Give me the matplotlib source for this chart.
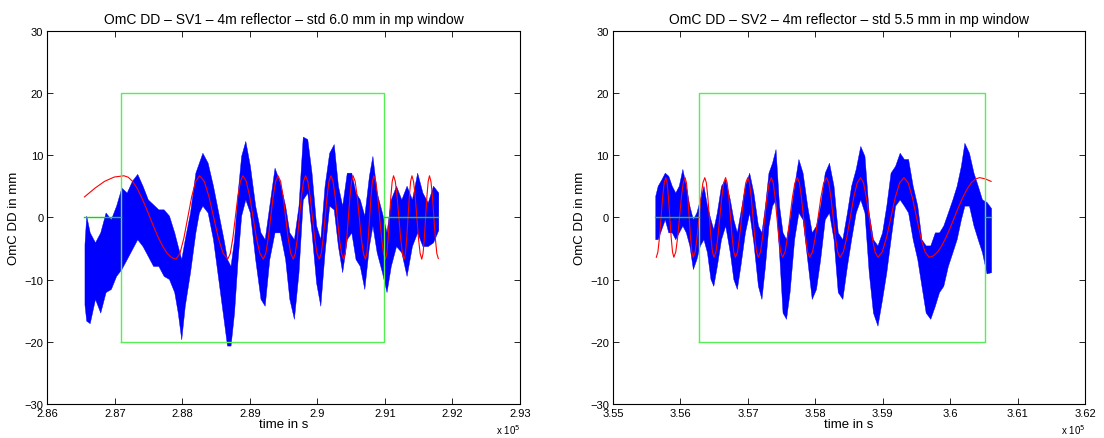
import matplotlib
matplotlib.use("Agg")
import matplotlib.pyplot as plt

plt.rcParams["font.family"] = ["Liberation Sans", "DejaVu Sans"]

# ---------------- SV1 (left panel) ----------------
SV1_TITLE = "OmC DD \u2013 SV1 \u2013 4m reflector \u2013 std 6.0 mm in mp window"
SV1_XTICKS = [286000, 287000, 288000, 289000, 290000, 291000, 292000, 293000]
SV1_WINDOW = [287085, 290981]

# blue OmC band: time, upper and lower edge (mm)
SV1_T = [286548, 286574, 286626, 286704, 286782, 286861, 286939, 287017, 287095, 287174,
         287252, 287330, 287408, 287487, 287565, 287643, 287721, 287800, 287878, 287930,
         287982, 288034, 288112, 288191, 288243, 288295, 288373, 288452, 288530, 288608,
         288660, 288712, 288764, 288817, 288869, 288931, 288999, 289077, 289156, 289218,
         289286, 289364, 289443, 289521, 289583, 289651, 289719, 289782, 289849, 289912,
         289980, 290042, 290105, 290173, 290241, 290303, 290366, 290434, 290501, 290564,
         290627, 290694, 290762, 290814, 290877, 290955, 291023, 291086, 291164, 291242,
         291320, 291399, 291477, 291555, 291633, 291712, 291790]
SV1_HI = [-4.3, 0.3, -2.4, -4.0, -2.4, 0.8, -0.3, 1.9, 4.8, 4.0,
          5.9, 7.0, 5.1, 2.9, 2.1, 1.3, 1.3, 0.3, -2.4, -4.6,
          -6.7, -3.5, 0.8, 7.2, 8.8, 10.4, 8.8, 5.1, 0.8, -3.5,
          -6.7, -7.8, -3.5, 4.0, 9.9, 12.3, 8.3, 1.9, -2.4, -3.5,
          1.9, 8.0, 5.6, 1.9, -2.4, -3.5, 1.9, 13.0, 12.6, 7.2,
          -1.3, -3.5, 5.1, 10.4, 11.8, 5.1, 1.9, 7.2, 7.2, 4.0,
          2.9, 0.3, 6.7, 9.9, 4.0, 0.8, -2.4, 2.9, 5.1, 2.9,
          5.1, 2.9, 7.2, 4.0, 2.4, 5.1, 4.0]
SV1_LO = [-14.0, -16.6, -17.0, -13.1, -15.3, -12.0, -11.5, -9.4, -8.3, -6.7,
          -5.1, -3.5, -4.6, -6.2, -7.8, -7.8, -9.4, -9.9, -12.0, -15.3,
          -19.6, -14.2, -8.8, -2.4, 0.8, 1.9, 0.8, -3.5, -9.9, -16.3,
          -20.6, -20.6, -15.3, -6.7, 0.3, 2.9, 0.8, -6.7, -13.1, -14.2,
          -6.7, -2.4, -2.4, -6.7, -13.1, -16.3, -8.8, 2.9, 4.0, -2.4,
          -10.5, -14.2, -5.6, 1.9, 1.3, -4.6, -8.8, -3.5, -2.4, -6.7,
          -7.8, -11.5, -4.6, -1.3, -5.6, -8.8, -12.0, -7.8, -4.6, -5.6,
          -9.4, -4.6, -2.4, -4.6, -4.6, -4.0, -2.0]

# red fitted curve
SV1_FIT_T = [286548, 286702, 286845, 286989, 287132,
             287196, 287261, 287325, 287389, 287454, 287518, 287582, 287647, 287711, 287775, 287840, 287904,
             287962, 288020, 288079, 288137, 288195, 288253,
             288323, 288392, 288462, 288532, 288602, 288671,
             288708, 288746, 288783, 288820, 288858, 288895,
             288945, 288996, 289046, 289096, 289147, 289197,
             289234, 289270, 289307, 289343, 289380, 289416,
             289454, 289491, 289529, 289566, 289604, 289641,
             289671, 289702, 289732, 289762, 289793, 289823,
             289857, 289891, 289925, 289959, 289993, 290027,
             290056, 290084, 290113, 290142, 290170, 290199,
             290230, 290262, 290293, 290324, 290356, 290387,
             290411, 290434, 290458, 290481, 290505, 290528,
             290558, 290589, 290619, 290649, 290680, 290710,
             290731, 290752, 290773, 290793, 290814, 290835,
             290864, 290892, 290921, 290950, 290978, 291007,
             291027, 291047, 291067, 291087, 291107, 291127,
             291153, 291179, 291206, 291232, 291258, 291284,
             291303, 291322, 291342, 291361, 291380, 291399,
             291423, 291448, 291472, 291496, 291521, 291545,
             291564, 291583, 291602, 291621, 291640, 291659,
             291681, 291703, 291725, 291746, 291768, 291790]
SV1_FIT_V = [3.3, 4.7, 5.8, 6.5, 6.7,
             6.47, 5.8, 4.74, 3.35, 1.73, 0.0, -1.73, -3.35, -4.74, -5.8, -6.47, -6.7,
             -5.8, -3.35, 0.0, 3.35, 5.8, 6.7,
             5.8, 3.35, 0.0, -3.35, -5.8, -6.7,
             -5.8, -3.35, 0.0, 3.35, 5.8, 6.7,
             5.8, 3.35, 0.0, -3.35, -5.8, -6.7,
             -5.8, -3.35, 0.0, 3.35, 5.8, 6.7,
             5.8, 3.35, 0.0, -3.35, -5.8, -6.7,
             -5.8, -3.35, 0.0, 3.35, 5.8, 6.7,
             5.8, 3.35, 0.0, -3.35, -5.8, -6.7,
             -5.8, -3.35, 0.0, 3.35, 5.8, 6.7,
             5.8, 3.35, 0.0, -3.35, -5.8, -6.7,
             -5.8, -3.35, 0.0, 3.35, 5.8, 6.7,
             5.8, 3.35, 0.0, -3.35, -5.8, -6.7,
             -5.8, -3.35, 0.0, 3.35, 5.8, 6.7,
             5.8, 3.35, 0.0, -3.35, -5.8, -6.7,
             -5.8, -3.35, 0.0, 3.35, 5.8, 6.7,
             5.8, 3.35, 0.0, -3.35, -5.8, -6.7,
             -5.8, -3.35, 0.0, 3.35, 5.8, 6.7,
             5.8, 3.35, 0.0, -3.35, -5.8, -6.7,
             -5.8, -3.35, 0.0, 3.35, 5.8, 6.7,
             5.8, 3.35, 0.0, -3.35, -5.8, -6.6]

# ---------------- SV2 (right panel) ----------------
SV2_TITLE = "OmC DD \u2013 SV2 \u2013 4m reflector \u2013 std 5.5 mm in mp window"
SV2_XTICKS = [355000, 356000, 357000, 358000, 359000, 360000, 361000, 362000]
SV2_WINDOW = [356268, 360519]

SV2_T = [355626, 355662, 355715, 355767, 355819, 355871, 355923, 355975, 356028, 356080,
         356132, 356184, 356236, 356288, 356341, 356393, 356445, 356487, 356539, 356601,
         356664, 356732, 356784, 356836, 356888, 356956, 357019, 357081, 357149, 357201,
         357253, 357305, 357358, 357410, 357462, 357514, 357566, 357618, 357686, 357749,
         357811, 357879, 357947, 358010, 358072, 358140, 358203, 358270, 358333, 358401,
         358469, 358531, 358599, 358667, 358729, 358792, 358855, 358922, 358990, 359053,
         359116, 359183, 359251, 359314, 359376, 359444, 359512, 359574, 359637, 359705,
         359773, 359835, 359898, 359966, 360033, 360096, 360159, 360211, 360279, 360346,
         360409, 360472, 360539, 360607]
SV2_HI = [3.5, 5.1, 6.1, 7.2, 6.7, 5.1, 4.0, 5.1, 7.8, 5.1,
          1.9, -0.3, 0.8, 2.9, 5.1, 1.9, -0.3, -1.9, 0.8, 5.1,
          6.1, 2.9, -0.3, -2.4, 0.8, 5.1, 7.2, 4.0, -1.3, -2.4,
          1.9, 7.2, 8.8, 11.0, 1.9, -2.4, -3.5, -0.3, 5.1, 9.4,
          7.2, 1.9, -2.4, -1.3, 1.9, 7.2, 8.8, 5.1, -2.4, -3.5,
          0.8, 5.1, 7.8, 11.5, 9.9, 0.8, -3.5, -4.5, -2.4, 1.9,
          7.2, 8.3, 10.4, 9.4, 9.4, 5.1, 1.9, -3.5, -4.5, -4.5,
          -2.4, -2.4, -1.3, 0.8, 2.9, 5.1, 8.3, 12.0, 10.4, 7.2,
          5.1, 2.9, 2.5, 1.5]
SV2_LO = [-3.5, -3.5, -1.9, -0.3, -2.4, -2.4, -3.5, -2.4, -1.3, -2.4,
          -4.5, -8.3, -6.7, -4.5, -3.5, -5.6, -9.9, -11.0, -7.8, -3.5,
          -1.3, -5.6, -9.9, -11.5, -7.8, -2.4, 0.8, -4.0, -11.0, -13.1,
          -7.8, -1.3, 1.9, 2.9, -5.6, -15.3, -16.3, -12.0, -3.5, 0.8,
          -0.3, -6.7, -13.1, -11.5, -6.7, -0.3, 0.8, -3.5, -12.0, -13.1,
          -7.8, -3.5, 0.8, 2.9, 0.8, -8.8, -15.3, -17.4, -13.1, -8.8,
          -3.5, 1.9, 2.9, 1.9, 0.8, -3.5, -6.7, -11.0, -15.3, -16.3,
          -14.2, -12.0, -11.0, -7.8, -5.6, -3.5, -0.3, 1.9, 1.9, -1.3,
          -3.5, -5.6, -9.0, -8.8]

SV2_FIT_T = [355642,
             355665, 355689, 355712, 355735, 355759, 355782,
             355802, 355822, 355842, 355862, 355882, 355902,
             355930, 355958, 355986, 356013, 356041, 356069,
             356089, 356109, 356129, 356149, 356169, 356189,
             356218, 356246, 356275, 356304, 356332, 356361,
             356384, 356406, 356429, 356452, 356474, 356497,
             356526, 356554, 356583, 356612, 356640, 356669,
             356693, 356718, 356742, 356766, 356791, 356815,
             356846, 356876, 356907, 356937, 356968, 356998,
             357024, 357050, 357076, 357102, 357128, 357154,
             357186, 357218, 357251, 357283, 357315, 357347,
             357375, 357403, 357431, 357458, 357486, 357514,
             357551, 357587, 357624, 357660, 357697, 357733,
             357764, 357794, 357825, 357855, 357886, 357916,
             357958, 357999, 358041, 358083, 358124, 358166,
             358199, 358232, 358265, 358298, 358331, 358364,
             358415, 358467, 358518, 358569, 358621, 358672,
             358715, 358757, 358800, 358843, 358885, 358928,
             358992, 359057, 359121, 359185, 359250, 359314,
             359377, 359439, 359502, 359564, 359627, 359689,
             359751, 359813, 359876, 359938, 360000, 360062,
             360124, 360186, 360249, 360311, 360373, 360435,
             360521, 360607]
SV2_FIT_V = [-6.4,
             -5.55, -3.2, 0.0, 3.2, 5.55, 6.4,
             5.55, 3.2, 0.0, -3.2, -5.55, -6.4,
             -5.55, -3.2, 0.0, 3.2, 5.55, 6.4,
             5.55, 3.2, 0.0, -3.2, -5.55, -6.4,
             -5.55, -3.2, 0.0, 3.2, 5.55, 6.4,
             5.55, 3.2, 0.0, -3.2, -5.55, -6.4,
             -5.55, -3.2, 0.0, 3.2, 5.55, 6.4,
             5.55, 3.2, 0.0, -3.2, -5.55, -6.4,
             -5.55, -3.2, 0.0, 3.2, 5.55, 6.4,
             5.55, 3.2, 0.0, -3.2, -5.55, -6.4,
             -5.55, -3.2, 0.0, 3.2, 5.55, 6.4,
             5.55, 3.2, 0.0, -3.2, -5.55, -6.4,
             -5.55, -3.2, 0.0, 3.2, 5.55, 6.4,
             5.55, 3.2, 0.0, -3.2, -5.55, -6.4,
             -5.55, -3.2, 0.0, 3.2, 5.55, 6.4,
             5.55, 3.2, 0.0, -3.2, -5.55, -6.4,
             -5.55, -3.2, 0.0, 3.2, 5.55, 6.4,
             5.55, 3.2, 0.0, -3.2, -5.55, -6.4,
             -5.55, -3.2, 0.0, 3.2, 5.55, 6.4,
             5.55, 3.2, 0.0, -3.2, -5.55, -6.4,
             -6.18, -5.55, -4.53, -3.2, -1.66, 0.0,
             1.66, 3.2, 4.53, 5.55, 6.18, 6.4,
             6.2, 5.8]

WINDOW_HALF = 20
YTICKS = [-30, -20, -10, 0, 10, 20, 30]


def draw_panel(ax, title, xticks, window, t, hi, lo, fit_t, fit_v):
    ax.fill_between(t, lo, hi, color="#0000ff", lw=0.3, zorder=2)
    ax.plot(fit_t, fit_v, color="#ff0000", lw=0.8, zorder=3)

    w0, w1 = window
    ax.plot([w0, w0, w1, w1, w0], [-WINDOW_HALF, WINDOW_HALF, WINDOW_HALF, -WINDOW_HALF, -WINDOW_HALF],
            color="#55ee55", lw=1.0, zorder=4)
    ax.plot([t[0], w0], [0, 0], color="#00e000", lw=1.0, zorder=4)
    ax.plot([w1, t[-1]], [0, 0], color="#00e000", lw=1.0, zorder=4)

    ax.set_xlim(xticks[0], xticks[-1])
    ax.set_ylim(YTICKS[0], YTICKS[-1])
    ax.set_xticks(xticks)
    ax.set_xticklabels([f"{v / 1e5:g}" for v in xticks])
    ax.set_yticks(YTICKS)
    ax.tick_params(direction="in", top=True, right=True, length=4, width=0.6,
                   labelsize=8, pad=3)
    for sp in ax.spines.values():
        sp.set_linewidth(0.8)
    ax.set_title(title, fontsize=10, pad=6)
    ax.set_xlabel("time in s", fontsize=9.5, labelpad=0)
    ax.set_ylabel("OmC DD in mm", fontsize=9.5, labelpad=3)
    ax.text(1.0, -0.066, r"x 10$^5$", transform=ax.transAxes, ha="right", va="center", fontsize=7)


fig = plt.figure(figsize=(11.04, 4.39), dpi=100)
ax1 = fig.add_axes([0.043, 0.0774, 0.428, 0.850])
ax2 = fig.add_axes([0.5553, 0.0774, 0.4275, 0.850])

draw_panel(ax1, SV1_TITLE, SV1_XTICKS, SV1_WINDOW, SV1_T, SV1_HI, SV1_LO, SV1_FIT_T, SV1_FIT_V)
draw_panel(ax2, SV2_TITLE, SV2_XTICKS, SV2_WINDOW, SV2_T, SV2_HI, SV2_LO, SV2_FIT_T, SV2_FIT_V)

fig.savefig("out.png", dpi=100)
